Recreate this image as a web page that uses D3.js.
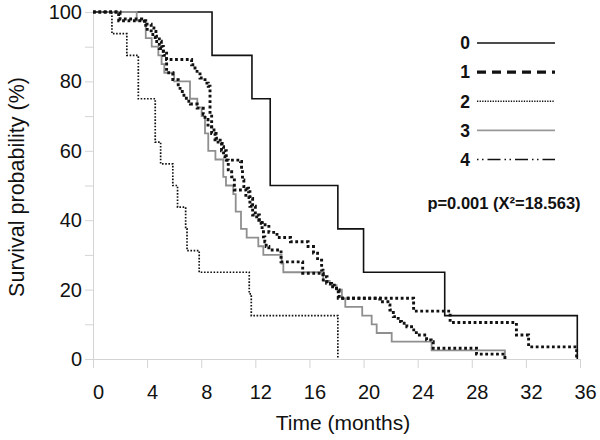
<!DOCTYPE html>
<html><head><meta charset="utf-8">
<script src="https://cdn.jsdelivr.net/npm/d3@7"></script>
<style>
html,body{margin:0;padding:0;background:#fff;}
svg{display:block;font-family:"Liberation Sans",Arial,sans-serif;}
</style></head>
<body>
<svg id="chart" width="600" height="440"></svg>
<script>
// ---- data ----
const timeTicks = [0, 4, 8, 12, 16, 20, 24, 28, 32, 36];
const survTicks = [0, 10, 20, 30, 40, 50, 60, 70, 80, 90, 100];
const groupNames = ["0", "1", "2", "3", "4"];
const pText = "p=0.001 (X\u00B2=18.563)";

const g0Time = [0, 8.8, 11.75, 13.1, 18.1, 20.0, 26.0, 35.8];
const g0Surv = [100, 87.5, 75, 50, 37.5, 25, 12.5, 0];

const g1Time = [0, 1.9, 3.9, 4.3, 4.6, 4.9, 5.2, 5.44, 5.9, 6.3, 6.6, 6.9, 7.2, 7.7, 8.15, 8.28, 8.5, 8.77, 9.02, 9.5, 9.85, 10.0, 10.25, 10.45, 11.3, 11.6, 11.8, 12.1, 12.5, 13.0, 13.6, 14.6, 15.9, 16.3, 16.6, 16.9, 17.0, 17.3, 17.6, 18.0, 18.2, 23.7, 26.4, 31.3, 32.2, 35.75];
const g1Surv = [100, 97.5, 95, 93.5, 91.5, 89.5, 87.5, 82.5, 80.5, 78, 76, 74.3, 73.5, 72.3, 70.5, 69, 67.4, 65, 62.5, 60, 57.3, 54.5, 52.5, 48.7, 46.5, 44, 41.5, 40, 38.7, 36.5, 35, 33.8, 32.4, 30.5, 28.5, 25.6, 23.7, 21.8, 20.8, 19.9, 17.5, 13.8, 10.5, 6.9, 3.5, 0];

const g2Time = [0, 1.4, 2.5, 3.35, 4.6, 5.0, 5.9, 6.25, 6.85, 6.95, 7.85, 11.55, 11.7, 18.1];
const g2Surv = [100, 93.75, 87.5, 75, 62.5, 56.25, 50, 43.75, 37.5, 31.25, 25, 18.75, 12.5, 0];

const g3Time = [0, 3.23, 3.9, 4.34, 4.83, 5.07, 5.27, 6.0, 7.17, 7.71, 8.03, 8.28, 8.52, 9.05, 9.63, 9.83, 10.37, 10.55, 10.94, 11.36, 12.22, 12.59, 13.94, 14.07, 17.02, 17.5, 18.0, 18.4, 18.65, 19.9, 20.6, 20.97, 22.08, 25.03, 30.45];
const g3Surv = [100, 97.5, 92.5, 90, 87.5, 85, 82.5, 80, 75, 72.5, 70, 65, 60, 57.5, 52.5, 50, 47.5, 42.5, 37.5, 35, 32.5, 30, 27.5, 25, 22.5, 21.3, 20, 17.5, 15, 12.5, 10, 7.5, 5, 2.5, 0];

const g4Time = [0, 2.0, 3.6, 4.0, 4.3, 4.5, 4.65, 4.9, 5.05, 5.2, 5.44, 7.29, 7.54, 7.91, 8.28, 8.52, 8.65, 8.77, 9.1, 9.4, 9.55, 9.65, 9.75, 10.9, 10.98, 11.05, 11.15, 11.4, 11.5, 11.6, 11.8, 12.0, 12.3, 12.5, 12.6, 12.7, 12.8, 13.0, 13.9, 15.5, 17.02, 17.27, 17.64, 18.0, 18.13, 21.2, 21.8, 21.95, 22.2, 22.56, 22.8, 23.2, 23.55, 23.9, 24.66, 25.0, 25.15, 28.35, 30.45];
const g4Surv = [100, 98, 97.3, 96.5, 95.4, 94.4, 93, 91.6, 90.1, 88.7, 86.3, 84.8, 82.9, 81, 79.5, 78.6, 70, 66, 63.6, 62.6, 61.2, 58.3, 57.3, 56.9, 54.5, 51.6, 49.7, 49.2, 48.2, 46.3, 44, 41.5, 39.1, 37.2, 35.2, 33.8, 32.4, 31.4, 28, 24.7, 22.8, 21.8, 21.3, 20.4, 17.5, 16.5, 15.6, 14.1, 12.2, 10.8, 10.3, 9.3, 8.4, 6.9, 5.5, 5, 3.1, 1.4, 0];

// ---- chart ----
const svg = d3.select("#chart");
const axisColor = "#d4d4d4";
const x = d3.scaleLinear().domain([0, 36]).range([93, 580]);
const y = d3.scaleLinear().domain([0, 100]).range([359, 12]);

// axes
const xAxis = svg.append("g").attr("transform", `translate(0,${y(0)})`)
  .call(d3.axisBottom(x).tickValues(timeTicks).tickSize(9).tickPadding(17).tickSizeOuter(0));
xAxis.selectAll("text").attr("dx", 5);
const yAxis = svg.append("g").attr("transform", `translate(${x(0)},0)`)
  .call(d3.axisLeft(y).tickValues(survTicks).tickSize(8).tickPadding(3).tickSizeOuter(0)
    .tickFormat(d => d % 20 === 0 ? d : ""));
[xAxis, yAxis].forEach(a => {
  a.select(".domain").attr("stroke", axisColor).attr("stroke-width", 1);
  a.selectAll(".tick line").attr("stroke", axisColor).attr("stroke-width", 1);
  a.selectAll("text").attr("fill", "#111").style("font-size", "20px")
    .style("font-family", "'Liberation Sans',Arial,sans-serif");
});

svg.append("text").attr("x", 343).attr("y", 430).attr("text-anchor", "middle")
  .style("font-size", "21px").attr("fill", "#111").text("Time (months)");
svg.append("text").attr("transform", "translate(24,187) rotate(-90)").attr("text-anchor", "middle")
  .style("font-size", "21.5px").attr("fill", "#111").text("Survival probability (%)");

// curves
const groups = [
  {name: "0", t: g0Time, s: g0Surv, stroke: "#111", width: 1.6, dash: null},
  {name: "3", t: g3Time, s: g3Surv, stroke: "#8f8f8f", width: 1.8, dash: null},
  {name: "1", t: g1Time, s: g1Surv, stroke: "#111", width: 2.9, dash: "2.8,2.6"},
  {name: "4", t: g4Time, s: g4Surv, stroke: "#111", width: 2.9, dash: "2.8,2.6"},
  {name: "2", t: g2Time, s: g2Surv, stroke: "#111", width: 1.7, dash: "1.6,1.6"}
];
const line = d3.line().x(d => x(d[0])).y(d => y(d[1])).curve(d3.curveStepAfter);
groups.forEach(g => {
  const pts = g.t.map((t, i) => [t, g.s[i]]);
  svg.append("path").datum(pts).attr("d", line).attr("fill", "none")
    .attr("stroke", g.stroke).attr("stroke-width", g.width)
    .attr("stroke-dasharray", g.dash);
});

// legend
const legendStyles = [
  {stroke: "#111", width: 1.6, dash: null},
  {stroke: "#111", width: 3.2, dash: "9,6"},
  {stroke: "#111", width: 1.4, dash: "1.3,1.3"},
  {stroke: "#999", width: 1.6, dash: null},
  {stroke: "#111", width: 1.5, dash: "1.5,3.5,1.5,4,13,4"}
];
const legendBase = [49.3, 78.4, 107.6, 136.7, 165.8];
groupNames.forEach((nm, i) => {
  svg.append("text").attr("x", 465).attr("y", legendBase[i]).attr("text-anchor", "middle")
    .style("font-size", "17.5px").style("font-weight", "bold").attr("fill", "#111").text(nm);
  const ly = legendBase[i] - 6.3;
  svg.append("line").attr("x1", 477).attr("x2", 555).attr("y1", ly).attr("y2", ly)
    .attr("stroke", legendStyles[i].stroke).attr("stroke-width", legendStyles[i].width)
    .attr("stroke-dasharray", legendStyles[i].dash);
});
svg.append("text").attr("x", 504).attr("y", 209).attr("text-anchor", "middle")
  .style("font-size", "16.5px").style("font-weight", "bold").attr("fill", "#111").text(pText);
</script>
</body></html>
